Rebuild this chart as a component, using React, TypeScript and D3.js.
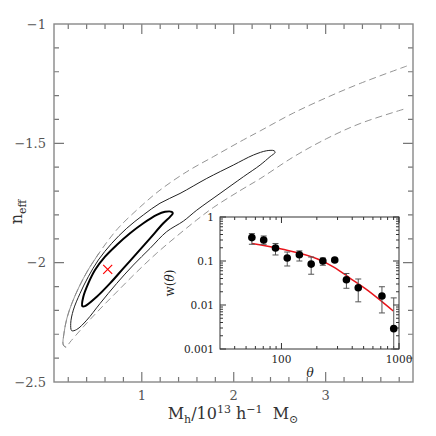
import * as d3 from 'd3';

// main panel: confidence contours in (M_h, n_eff)
const innerM = [0.353, 0.364, 0.418, 0.491, 0.6, 0.727, 0.872, 1.017, 1.163, 1.253, 1.326, 1.337, 1.307, 1.234, 1.09, 0.945, 0.799, 0.654, 0.51, 0.382];
const innerN = [-2.182, -2.143, -2.087, -2.031, -1.975, -1.926, -1.877, -1.835, -1.8, -1.787, -1.787, -1.793, -1.808, -1.835, -1.898, -1.961, -2.024, -2.087, -2.143, -2.182];

const midM = [0.238, 0.227, 0.255, 0.328, 0.418, 0.527, 0.673, 0.836, 1.017, 1.198, 1.416, 1.707, 1.996, 2.214, 2.359, 2.439, 2.45, 2.395, 2.287, 2.105, 1.851, 1.598, 1.452, 1.271, 1.09, 0.908, 0.727, 0.546, 0.401, 0.292];
const midN = [-2.285, -2.254, -2.199, -2.129, -2.059, -1.989, -1.919, -1.856, -1.8, -1.751, -1.71, -1.647, -1.591, -1.549, -1.531, -1.531, -1.538, -1.556, -1.591, -1.64, -1.71, -1.78, -1.826, -1.87, -1.94, -2.01, -2.087, -2.171, -2.241, -2.28];

// outer contour, upper branch starting at the tip
const outUpM = [0.146, 0.154, 0.186, 0.241, 0.317, 0.415, 0.535, 0.654, 0.763, 0.981, 1.198, 1.489, 1.778, 2.069, 2.287, 2.649, 3.012, 3.375, 3.883];
const outUpN = [-2.345, -2.295, -2.232, -2.169, -2.102, -2.031, -1.96, -1.897, -1.847, -1.767, -1.696, -1.619, -1.556, -1.493, -1.448, -1.373, -1.308, -1.249, -1.176];
// outer contour, lower branch after the tip
const outLoM = [0.176, 0.219, 0.364, 0.546, 0.727, 0.945, 1.163, 1.38, 1.598, 1.778, 2.069, 2.287, 2.649, 3.012, 3.375, 3.883];
const outLoN = [-2.354, -2.333, -2.269, -2.194, -2.123, -2.039, -1.96, -1.889, -1.821, -1.769, -1.698, -1.648, -1.557, -1.48, -1.417, -1.353];

const bestM = 0.629;
const bestN = -2.028;

const mainXTicks = [1, 2, 3];
const mainYTicks = [-2.5, -2, -1.5, -1];

// inset: w(theta)
const theta = [56, 70.6, 89, 112, 142, 179, 225, 284, 357, 450, 716, 902];
const w = [0.34, 0.3, 0.197, 0.117, 0.139, 0.085, 0.1, 0.105, 0.0376, 0.0247, 0.016, 0.0029];
const wHi = [0.42, 0.37, 0.25, 0.16, 0.17, 0.123, 0.117, 0.115, 0.052, 0.039, 0.026, 0.0145];
const wLo = [0.24, 0.24, 0.137, 0.077, 0.1, 0.05, 0.08, 0.096, 0.024, 0.0118, 0.0066, 0.001];

const modelTheta = [56, 100, 203, 281, 387, 535, 716, 893];
const modelW = [0.25, 0.187, 0.111, 0.072, 0.04, 0.022, 0.0119, 0.0073];

const insetXTicks = [100, 1000];
const insetYTicks = [0.001, 0.01, 0.1, 1];

const serif = '"DejaVu Serif", serif';

export default function App() {
  const W = 436, H = 436;
  const x = d3.scaleLinear().domain([0.045, 3.95]).range([54, 413]);
  const y = d3.scaleLinear().domain([-2.5, -1]).range([382, 24]);

  const ix = d3.scaleLog().domain([30, 1000]).range([220, 399]);
  const iy = d3.scaleLog().domain([0.001, 1]).range([349, 217]);

  const closed = d3.line<number[]>().x(d => x(d[0])).y(d => y(d[1])).curve(d3.curveCatmullRomClosed);
  const open = d3.line<number[]>().x(d => x(d[0])).y(d => y(d[1])).curve(d3.curveCatmullRom);

  const inner = innerM.map((m, i) => [m, innerN[i]]);
  const mid = midM.map((m, i) => [m, midN[i]]);
  const up = outUpM.map((m, i) => [m, outUpN[i]]);
  const lo = outLoM.map((m, i) => [m, outLoN[i]]);
  const outer = [...up.slice().reverse(), ...lo];
  const outerSolid = [...up.slice(0, 7).reverse(), lo[0]];

  const xMinor = d3.range(1, 20).map(i => i * 0.2);
  const yMinor = d3.range(-24, -10).map(i => i / 10);

  const ixMinor = [40, 50, 60, 70, 80, 90, 200, 300, 400, 500, 600, 700, 800, 900];
  const iyMinor: number[] = [];
  [0.001, 0.01, 0.1].forEach(d => { for (let k = 2; k <= 9; k++) iyMinor.push(k * d); });

  const model = d3.line<number>().x((_, i) => ix(modelTheta[i])).y(d => iy(d)).curve(d3.curveMonotoneX);

  const axisCol = '#777';
  const labCol = '#555';

  // tick marks, one path per panel
  let mainTicks = '';
  xMinor.forEach(v => {
    const len = Math.abs(v - Math.round(v)) < 1e-6 ? 10 : 5;
    const px = x(v);
    mainTicks += `M${px},382V${382 - len}M${px},24V${24 + len}`;
  });
  yMinor.forEach(v => {
    const len = Math.abs(v * 2 - Math.round(v * 2)) < 1e-6 ? 10 : 5;
    const py = y(v);
    mainTicks += `M54,${py}H${54 + len}M413,${py}H${413 - len}`;
  });

  let insetTicks = '';
  [...ixMinor, ...insetXTicks].forEach(v => {
    const len = insetXTicks.includes(v) ? 6 : 3;
    const px = ix(v);
    insetTicks += `M${px},349V${349 - len}M${px},217V${217 + len}`;
  });
  [...iyMinor, ...insetYTicks].forEach(v => {
    const len = insetYTicks.includes(v) ? 6 : 3;
    const py = iy(v);
    insetTicks += `M220,${py}H${220 + len}M399,${py}H${399 - len}`;
  });

  return (
    <svg width={W} height={H} style={{ position: 'absolute', left: 0, top: 0, background: '#fff' }}>
      <path d={mainTicks} fill="none" stroke={axisCol} strokeWidth={1.2} />
      <rect x={54} y={24} width={359} height={358} fill="none" stroke="#888" strokeWidth={1.4} />

      {mainXTicks.map(v => (
        <text key={'xt' + v} x={x(v)} y={400} textAnchor="middle" fontFamily={serif} fontSize={13} fill={labCol}>{v}</text>
      ))}
      {mainYTicks.map(v => (
        <text key={'yt' + v} x={46} y={y(v) + 4.5} textAnchor="end" fontFamily={serif} fontSize={13} fill={labCol}>{String(v).replace('-', '\u2212')}</text>
      ))}

      <text x={233} y={419} textAnchor="middle" fontFamily={serif} fontSize={16} fill="#333">
        M<tspan fontSize={11} dy={4}>h</tspan><tspan dy={-4}>/10</tspan><tspan fontSize={11} dy={-6}>13</tspan><tspan dy={6}>{'\u00a0h'}</tspan><tspan fontSize={11} dy={-6}>{'\u22121'}</tspan><tspan dy={6}>{'\u00a0\u00a0M'}</tspan><tspan fontSize={11} dy={4}>{'\u2299'}</tspan>
      </text>
      <text transform="translate(22,212) rotate(-90)" textAnchor="middle" fontFamily={serif} fontSize={16} fill="#333">
        n<tspan fontSize={11} dy={4}>eff</tspan>
      </text>

      {/* contours */}
      <path d={open(outer) ?? ''} fill="none" stroke="#888" strokeWidth={0.9} strokeDasharray="7,4" />
      <path d={open(outerSolid) ?? ''} fill="none" stroke="#888" strokeWidth={0.9} />
      <path d={closed(mid) ?? ''} fill="none" stroke="#222" strokeWidth={1} />
      <path d={closed(inner) ?? ''} fill="none" stroke="#000" strokeWidth={2} />
      <path
        d={`M${x(bestM) - 4.5},${y(bestN) - 4.5}L${x(bestM) + 4.5},${y(bestN) + 4.5}M${x(bestM) - 4.5},${y(bestN) + 4.5}L${x(bestM) + 4.5},${y(bestN) - 4.5}`}
        stroke="#f00" strokeWidth={1.2} fill="none"
      />

      {/* inset */}
      <rect x={220} y={217} width={179} height={132} fill="#fff" />
      <path d={insetTicks} fill="none" stroke="#333" strokeWidth={1} />
      <rect x={220} y={217} width={179} height={132} fill="none" stroke="#333" strokeWidth={1} />

      {insetXTicks.map(v => (
        <text key={'ixt' + v} x={ix(v)} y={363} textAnchor="middle" fontFamily={serif} fontSize={10.5} fill="#222">{v}</text>
      ))}
      {insetYTicks.map(v => (
        <text key={'iyt' + v} x={214} y={iy(v) + 4} textAnchor="end" fontFamily={serif} fontSize={10.5} fill="#222">{String(v)}</text>
      ))}
      <text x={310} y={377} textAnchor="middle" fontFamily={serif} fontSize={12} fontStyle="italic" fill="#222">θ</text>
      <text transform="translate(174,283) rotate(-90)" textAnchor="middle" fontFamily={serif} fontSize={12} fill="#222">
        w(<tspan fontStyle="italic">θ</tspan>)
      </text>

      <path d={model(modelW) ?? ''} fill="none" stroke="#e8141b" strokeWidth={1.5} />
      {theta.map((t, i) => (
        <path
          key={'eb' + i}
          d={`M${ix(t)},${iy(wHi[i])}V${iy(wLo[i])}M${ix(t) - 3},${iy(wHi[i])}H${ix(t) + 3}M${ix(t) - 3},${iy(wLo[i])}H${ix(t) + 3}`}
          stroke="#555" strokeWidth={1} fill="none"
        />
      ))}
      {theta.map((t, i) => (
        <circle key={'pt' + i} cx={ix(t)} cy={iy(w[i])} r={3.8} fill="#000" />
      ))}
    </svg>
  );
}
